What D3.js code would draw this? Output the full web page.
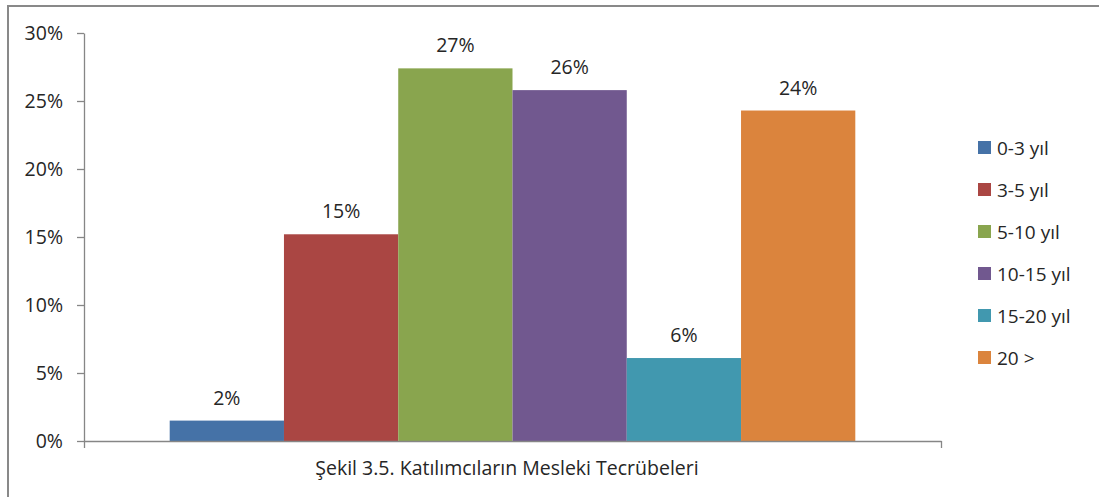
<!DOCTYPE html>
<html>
<head>
<meta charset="utf-8">
<script src="https://cdn.jsdelivr.net/npm/d3@7"></script>
<style>
body { margin:0; background:#fff; }
text { font-family:"Open Sans", sans-serif; fill:#262626; }
</style>
</head>
<body>
<svg id="chart"></svg>
<script>
var categories = ["0-3 yıl","3-5 yıl","5-10 yıl","10-15 yıl","15-20 yıl","20 >"]
var values = [1.5, 15.2, 27.4, 25.8, 6.1, 24.3]
var colors = ["#4572A7","#AA4643","#89A54E","#71588F","#4198AF","#DB843D"]
var yTicks = [0,5,10,15,20,25,30]
var caption = "Şekil 3.5. Katılımcıların Mesleki Tecrübeleri"

var screen = {width:1099,height:497}
var plot = {left:84,right:941,top:33,bottom:441}

var svg = d3.select("#chart")
    .attr("width",screen.width)
    .attr("height",screen.height)

// outer frame (right/bottom edges fall outside the picture)
svg.append("rect")
    .attr("x",8)
    .attr("y",6)
    .attr("width",1300)
    .attr("height",700)
    .attr("fill","none")
    .attr("stroke","#898989")
    .attr("stroke-width",2)

var yScale = d3.scaleLinear()
    .domain([0,30])
    .range([plot.bottom,plot.top])

var xScale = d3.scaleBand()
    .domain(categories)
    .range([plot.left,plot.right])
    .paddingInner(0)
    .paddingOuter(0.75)

var xEdge = d3.scaleLinear()
    .domain([0,1])
    .range([plot.left,plot.right])

//bars
svg.append("g")
    .selectAll("rect")
    .data(values)
    .enter()
    .append("rect")
    .attr("x",function(d,i){ return xScale(categories[i]) })
    .attr("y",function(d){ return yScale(d) })
    .attr("width",xScale.bandwidth())
    .attr("height",function(d){ return yScale(0)-yScale(d) })
    .attr("fill",function(d,i){ return colors[i] })

//axes
var yAxis = d3.axisLeft(yScale)
    .tickValues(yTicks)
    .tickSize(7)
    .tickSizeOuter(0)
    .tickPadding(14)
    .tickFormat(function(d){ return d+"%" })

var xAxis = d3.axisBottom(xEdge)
    .tickValues([0,1])
    .tickSize(7)
    .tickSizeOuter(0)
    .tickFormat("")

var gy = svg.append("g")
    .attr("transform","translate("+plot.left+",0)")
    .call(yAxis)
var gx = svg.append("g")
    .attr("transform","translate(0,"+plot.bottom+")")
    .call(xAxis)

svg.selectAll(".domain, .tick line")
    .attr("stroke","#868686")
    .attr("stroke-width",1.3)
gy.selectAll("text")
    .style("font-size","19.5px")
    .attr("fill","#262626")

//value labels
svg.append("g")
    .selectAll("text")
    .data(values)
    .enter()
    .append("text")
    .text(function(d){ return Math.round(d)+"%" })
    .attr("text-anchor","middle")
    .attr("x",function(d,i){ return xScale(categories[i])+xScale.bandwidth()/2 })
    .attr("y",function(d){ return yScale(d)-16 })
    .style("font-size","19.5px")

//legend
var legend = svg.append("g")
    .selectAll("g")
    .data(categories)
    .enter()
    .append("g")
    .attr("transform",function(d,i){ return "translate(978,"+(148+i*42)+")" })
legend.append("rect")
    .attr("x",0)
    .attr("y",-7)
    .attr("width",13)
    .attr("height",13)
    .attr("fill",function(d,i){ return colors[i] })
legend.append("text")
    .text(function(d){ return d })
    .attr("x",19)
    .attr("y",6.5)
    .style("font-size","19px")

//caption
svg.append("text")
    .text(caption)
    .attr("text-anchor","middle")
    .attr("x",507)
    .attr("y",475)
    .style("font-size","19.5px")
</script>
</body>
</html>
